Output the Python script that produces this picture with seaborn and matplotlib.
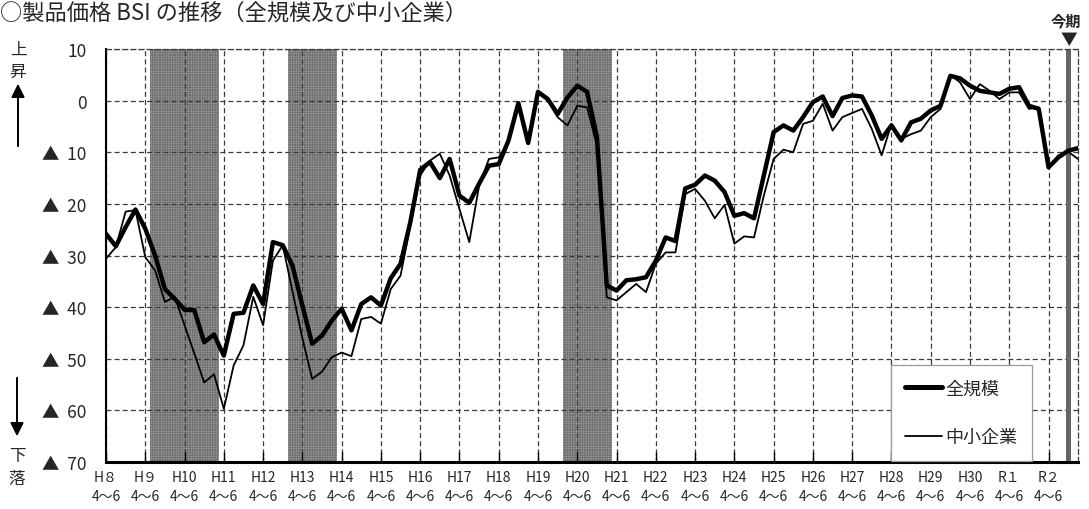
import matplotlib
matplotlib.use("Agg")
import matplotlib.pyplot as plt
import numpy as np
import pandas as pd
import seaborn as sns
from matplotlib.lines import Line2D

# ---------------- data ----------------
# quarter index 0 = H8 4~6 (1996 Apr-Jun), one step per quarter
quarters = list(range(100))

zenkibo = [  # 全規模
    -25.8, -28.2, -24.5, -21.1, -24.8, -30.0, -36.5, -38.4, -40.5, -40.6,
    -46.8, -45.3, -49.4, -41.3, -41.1, -35.8, -39.4, -27.4, -28.0, -32.0,
    -39.7, -47.1, -45.5, -42.6, -40.3, -44.5, -39.4, -38.1, -39.7, -34.4,
    -31.6, -23.5, -13.4, -11.9, -15.0, -11.3, -18.4, -19.8, -16.1, -12.6,
    -12.3, -7.7, -0.5, -8.2, 1.7, 0.3, -2.6, 0.6, 2.9, 1.7,
    -7.0, -35.8, -36.8, -34.8, -34.6, -34.2, -31.0, -26.5, -27.2, -17.0,
    -16.3, -14.5, -15.5, -17.7, -22.3, -21.8, -22.8, -14.5, -6.1, -4.8,
    -5.8, -3.2, -0.3, 0.8, -3.0, 0.5, 1.0, 0.8, -2.9, -7.4,
    -4.8, -7.7, -4.2, -3.5, -1.9, -1.0, 4.8, 4.3, 2.9, 1.9,
    1.6, 1.3, 2.3, 2.6, -1.0, -1.6, -12.9, -11.0, -9.7, -9.2,
]

chusho = [  # 中小企業
    -30.6, -28.4, -21.5, -21.2, -30.3, -32.9, -39.0, -38.0, -43.5, -49.0,
    -54.6, -53.0, -59.7, -51.3, -47.4, -38.0, -43.5, -31.0, -28.0, -37.0,
    -46.0, -53.9, -52.5, -49.7, -48.8, -49.5, -42.3, -41.9, -43.2, -36.5,
    -33.9, -24.2, -14.5, -11.6, -10.3, -14.5, -21.0, -27.4, -16.5, -11.3,
    -11.0, -8.0, -0.6, -8.0, 1.6, 0.0, -3.2, -4.8, -1.0, -1.3,
    -8.7, -38.1, -38.7, -37.1, -35.5, -37.1, -31.6, -29.4, -29.4, -18.1,
    -17.1, -19.4, -22.8, -20.2, -27.7, -26.3, -26.5, -18.4, -11.3, -9.5,
    -10.0, -4.5, -3.9, -0.6, -5.8, -3.2, -2.4, -1.6, -5.5, -10.6,
    -4.5, -7.4, -6.5, -5.8, -3.2, -1.6, 5.0, 3.5, 0.3, 3.2,
    1.9, 0.3, 1.6, 1.6, -1.6, -1.3, -13.2, -10.6, -9.9, -11.3,
]

year_labels = ["H８", "H９", "H10", "H11", "H12", "H13", "H14", "H15", "H16",
               "H17", "H18", "H19", "H20", "H21", "H22", "H23", "H24", "H25",
               "H26", "H27", "H28", "H29", "H30", "R１", "R２"]
period_label = "4～6"
recession_spans = [(4.5, 11.5), (18.5, 23.5), (46.5, 51.5)]
current_quarter = 98
y_ticks = [10, 0, -10, -20, -30, -40, -50, -60, -70]
series_names = ["全規模", "中小企業"]
title_text = "○製品価格 BSI の推移（全規模及び中小企業）"

# ---------------- style ----------------
sns.set_style("white")
plt.rcParams["font.family"] = ["Noto Sans CJK JP", "DejaVu Sans"]
plt.rcParams["hatch.linewidth"] = 0.5
plt.rcParams["hatch.color"] = "#707070"

W, H = 1089, 510
fig = plt.figure(figsize=(W / 100, H / 100), dpi=100)
ax_left, ax_right, ax_top, ax_bot = 106, 1078, 50, 463
ax = fig.add_axes([ax_left / W, 1 - ax_bot / H, (ax_right - ax_left) / W, (ax_bot - ax_top) / H])

def fx(px):
    return px / W

def fy(py):
    return 1 - py / H

# recession shading
for a, b in recession_spans:
    ax.axvspan(a, b, facecolor="#b0b0b0", hatch="+" * 10, edgecolor="#707070",
               linewidth=0, zorder=0.5)

# current period bar
ax.axvspan(current_quarter - 0.25, current_quarter + 0.25, facecolor="#666666",
           linewidth=0, zorder=1.5)

df = pd.DataFrame({"q": quarters, series_names[0]: zenkibo, series_names[1]: chusho})
sns.lineplot(data=df, x="q", y=series_names[1], color="black", linewidth=1.3,
             ax=ax, zorder=3, legend=False)
sns.lineplot(data=df, x="q", y=series_names[0], color="black", linewidth=3.2,
             ax=ax, zorder=4, legend=False)

ax.set_xlim(0, 99)
ax.set_ylim(-70, 10)
year_pos = quarters[::4][:len(year_labels)]
ax.set_xticks(year_pos)
ax.set_xticklabels([f"{y}\n{period_label}" for y in year_labels], fontsize=10,
                   linespacing=1.4)
ax.set_yticks(y_ticks)
ax.set_yticklabels([f"▲  {abs(v)}" if v < 0 else f"{v}" for v in y_ticks], fontsize=12.5)
ax.set_xlabel("")
ax.set_ylabel("")

ax.tick_params(axis="x", direction="in", length=7, width=1, color="black", pad=6,
               bottom=True)
ax.tick_params(axis="y", length=0, pad=14)

dash = (0, (4, 2.5))
ax.grid(True, color="#3a3a3a", linestyle=dash, linewidth=0.9, zorder=1)
ax.set_axisbelow(True)
for s in ["top", "right"]:
    ax.spines[s].set_linestyle(dash)
    ax.spines[s].set_color("#3a3a3a")
    ax.spines[s].set_linewidth(0.9)
ax.spines["left"].set_color("black")
ax.spines["left"].set_linewidth(1.5)
ax.spines["bottom"].set_color("black")
ax.spines["bottom"].set_linewidth(2.2)

handles = [Line2D([], [], color="black", lw=3.6),
           Line2D([], [], color="black", lw=1.3)]
leg = ax.legend(handles, series_names, loc="lower left",
                bbox_to_anchor=((891 - ax_left) / (ax_right - ax_left), 0.003),
                borderaxespad=0, fontsize=13, handlelength=2.0, handletextpad=0.2,
                labelspacing=1.7, frameon=True, fancybox=False, framealpha=1,
                borderpad=0.8)
leg.get_frame().set_edgecolor("#9a9a9a")
leg.get_frame().set_linewidth(0.9)
leg.set_zorder(10)

# title
fig.text(fx(0), fy(20), title_text, fontsize=16, ha="left", va="baseline")

# 今期 marker
fig.text(fx(1066), fy(21), "今期", fontsize=11, ha="center", va="center",
         fontweight="bold")
fig.text(fx(1069), fy(40), "▼", fontsize=12, ha="center", va="center")

# left side annotations
fig.text(fx(18), fy(50), "上", fontsize=12, ha="center", va="center")
fig.text(fx(18), fy(72), "昇", fontsize=12, ha="center", va="center")
fig.text(fx(17), fy(457), "下", fontsize=12, ha="center", va="center")
fig.text(fx(17), fy(480), "落", fontsize=12, ha="center", va="center")
fig.patches.append(matplotlib.patches.FancyArrowPatch(
    (fx(18), fy(150)), (fx(18), fy(82)), transform=fig.transFigure,
    arrowstyle="-|>,head_length=8,head_width=4", color="black", lw=1.4,
    mutation_scale=1))
fig.patches.append(matplotlib.patches.FancyArrowPatch(
    (fx(17), fy(376)), (fx(17), fy(440)), transform=fig.transFigure,
    arrowstyle="-|>,head_length=8,head_width=4", color="black", lw=1.4,
    mutation_scale=1))

fig.savefig("out.png", dpi=100)
